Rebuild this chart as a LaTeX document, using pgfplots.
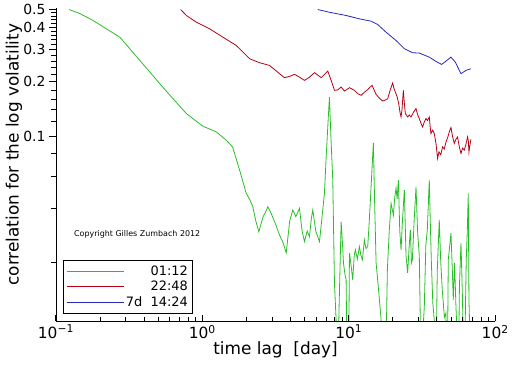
\documentclass[border=0pt]{standalone}
\usepackage{fontspec}
\setmainfont{DejaVu Sans}
\usepackage{pgfplots}
\pgfplotsset{compat=1.18}
\definecolor{cgreen}{RGB}{40,190,40}
\definecolor{cred}{RGB}{180,0,20}
\definecolor{cblue}{RGB}{40,40,190}
\begin{document}
\begin{tikzpicture}
\path (-56bp,-44bp) rectangle (456bp,322bp);
\begin{axis}[
  scale only axis, width=440bp, height=314bp,
  xmode=log, ymode=log,
  xmin=0.1, xmax=100, ymin=0.0095, ymax=0.51,
  axis x line*=bottom, axis y line*=left,
  axis on top,
  axis line style={line width=0.8bp, black},
  xtick={0.1,1,10,100},
  xticklabels={10\textsuperscript{−1},10\textsuperscript{0},10\textsuperscript{1},10\textsuperscript{2}},
  minor xtick={0.2,0.3,0.4,0.5,0.6,0.7,0.8,0.9,2,3,4,5,6,7,8,9,20,30,40,50,60,70,80,90},
  ytick={0.1,0.2,0.3,0.4,0.5},
  yticklabels={0.1,0.2,0.3,0.4,0.5},
  minor ytick={0.02,0.04,0.06,0.08,0.12,0.14,0.16,0.18,0.22,0.24,0.26,0.28,0.32,0.34,0.36,0.38,0.42,0.44,0.46,0.48},
  xtick align=inside, ytick align=outside,
  major tick length=7bp, minor tick length=4.5bp,
  tick style={draw=black, line width=0.9bp},
  x tick label style={font=\fontsize{15.5}{15.5}\selectfont},
  y tick label style={font=\fontsize{14}{14}\selectfont},
  xlabel={time lag~~[day]},
  ylabel={correlation for the log volatility},
  label style={font=\fontsize{17}{17}\selectfont},
  xlabel style={at={(axis description cs:0.5,-0.089)}, anchor=center},
  ylabel style={at={(axis description cs:-0.0955,0.532)}, anchor=center},
  legend style={at={(axis description cs:0.0159,0.0255)}, anchor=south west, draw=black, line width=0.8bp,
    font=\fontsize{13}{15}\selectfont, inner xsep=3bp, inner ysep=3bp, row sep=0.5bp, cells={anchor=east}},
  legend image code/.code={\draw[#1, line width=0.8bp] plot coordinates {(0bp,0bp) (57bp,0bp)};},
  every axis plot/.append style={line width=0.8bp},
]
\addplot[cgreen, no markers] coordinates {
(0.1233,0.500) (0.1459,0.475) (0.1796,0.435) (0.2228,0.390) (0.2731,0.352) (0.3195,0.304)
(0.3739,0.262) (0.4374,0.2265) (0.5118,0.195) (0.6307,0.161) (0.7783,0.1333) (1.01,0.1135)
(1.246,0.1056) (1.458,0.0951) (1.609,0.0873) (1.797,0.065) (1.995,0.0484) (2.1,0.045) (2.213,0.0408)
(2.32,0.034) (2.432,0.0297) (2.6,0.036) (2.70,0.038) (2.80,0.0408) (2.954,0.0375) (3.15,0.033)
(3.366,0.0285) (3.55,0.026) (3.739,0.0227) (3.95,0.034) (4.147,0.0392) (4.35,0.036) (4.608,0.040)
(4.8,0.030) (4.985,0.0262) (5.2,0.030) (5.391,0.0279) (5.55,0.035) (5.679,0.0392) (5.95,0.030)
(6.31,0.0262) (6.55,0.035) (6.823,0.0484) (7.0,0.075) (7.2,0.115) (7.379,0.1645) (7.55,0.10)
(7.776,0.0573) (7.987,0.0155) (8.196,0.0097) (8.37,0.004)
(8.6,0.012) (8.87,0.0338) (9.05,0.026) (9.2,0.0200) (9.4,0.0175) (9.59,0.0161) (9.79,0.004)
(9.95,0.004) (10.11,0.0227) (10.4,0.019) (10.64,0.0161) (10.9,0.022) (11.1,0.0236) (11.45,0.021)
(11.82,0.0246) (12.1,0.022) (12.39,0.0208) (12.79,0.0268) (13.1,0.024) (13.47,0.0246) (13.75,0.032)
(14.05,0.0444) (14.4,0.065) (14.73,0.092) (15.0,0.045) (15.37,0.020) (15.76,0.0161) (16.2,0.0125)
(16.63,0.0097) (17.04,0.004) (17.78,0.004) (18.35,0.0183) (18.9,0.030) (19.45,0.0426) (20.17,0.0367)
(20.6,0.046) (21.03,0.0517) (21.4,0.045) (21.82,0.0573) (22.3,0.030) (22.76,0.0236) (23.3,0.035)
(23.97,0.0504) (24.6,0.022) (25.24,0.0176) (25.8,0.024) (26.34,0.0304) (26.8,0.020) (27.18,0.0208)
(28.0,0.035) (28.79,0.0526) (29.5,0.030) (30.33,0.0217) (31.3,0.004) (32.0,0.008) (32.81,0.0115)
(33.6,0.025) (34.39,0.0304) (35.48,0.0573) (36.0,0.035) (36.61,0.0208) (37.5,0.012) (38.37,0.0097)
(39.2,0.004) (40.24,0.0183) (41.5,0.0345) (42.5,0.020) (43.51,0.0142) (45.0,0.010) (46.13,0.0106)
(47.0,0.004) (47.83,0.0208) (49.9,0.0292) (51.0,0.018) (51.72,0.0125) (52.8,0.020) (53.95,0.0115)
(55.0,0.008) (55.94,0.004) (57.0,0.015) (58.4,0.0258) (59.57,0.0142) (60.5,0.008) (61.5,0.004)
(62.5,0.010) (63.44,0.0208) (64.5,0.030) (65.5,0.0484) (66.2,0.0125) (67.2,0.008) (68.3,0.004)
};
\addlegendentry{01:12}
\addplot[cred, no markers] coordinates {
(0.7114,0.500) (0.7783,0.4636) (0.9106,0.4256) (1.122,0.3915) (1.382,0.352) (1.706,0.3167)
(2.102,0.2677) (2.46,0.2544) (2.877,0.2459) (3.366,0.2214) (3.642,0.2104) (3.95,0.214) (4.262,0.2195)
(4.6,0.212) (4.985,0.2033) (5.4,0.212) (5.834,0.2242) (6.48,0.2104) (7.19,0.2288) (7.58,0.2033)
(7.987,0.1791) (8.4,0.180) (8.87,0.1868) (9.34,0.1775) (10.11,0.1853) (10.93,0.1791) (11.5,0.172)
(12.14,0.1681) (12.8,0.175) (13.47,0.1807) (14.0,0.187) (14.43,0.1909) (15.37,0.1702) (16.2,0.162)
(17.04,0.1564) (17.7,0.158) (18.44,0.161) (19.2,0.180) (19.94,0.1965) (20.3,0.185) (20.8,0.1753)
(21.4,0.165) (21.93,0.1514) (22.4,0.135) (22.76,0.1277) (23.1,0.140) (23.59,0.1791) (24.0,0.150)
(24.35,0.1333) (25.24,0.1277) (25.9,0.131) (26.62,0.1277) (27.6,0.135) (28.79,0.1421) (29.5,0.132)
(30.33,0.1252) (31.1,0.118) (31.94,0.1125) (32.8,0.120) (33.7,0.1252) (34.5,0.122) (35.48,0.1277)
(36.0,0.112) (36.44,0.1035) (37.4,0.108) (38.37,0.1035) (39.42,0.0912) (40.42,0.0754) (41.3,0.082)
(42.5,0.079) (43.71,0.0873) (44.9,0.085) (46.13,0.093) (47.3,0.098) (48.58,0.1056) (49.9,0.1117)
(51.1,0.100) (52.55,0.0912) (53.9,0.096) (55.34,0.0991) (56.8,0.088) (58.4,0.0803) (59.9,0.086)
(61.5,0.0838) (63.1,0.090) (64.74,0.0991) (65.5,0.095) (66.2,0.082) (67.3,0.090) (68.3,0.0960)
};
\addlegendentry{22:48}
\addplot[cblue, no markers] coordinates {
(6.143,0.500) (7.379,0.4831) (9.59,0.4636) (11.82,0.4444) (14.21,0.4311) (15.76,0.4134)
(17.98,0.375) (21.03,0.3375) (23.97,0.3039) (27.31,0.2889) (30.33,0.2875) (35.48,0.2732)
(39.42,0.2587) (43.04,0.2491) (46.13,0.2597) (49.9,0.2732) (53.38,0.2564) (58.4,0.2214)
(63.13,0.2307) (68.3,0.2358)
};
\addlegendentry{7d~~14:24}
\node[font=\fontsize{8}{8}\selectfont] at (axis description cs:0.185,0.277) {Copyright Gilles Zumbach 2012};
\end{axis}
\end{tikzpicture}
\end{document}
